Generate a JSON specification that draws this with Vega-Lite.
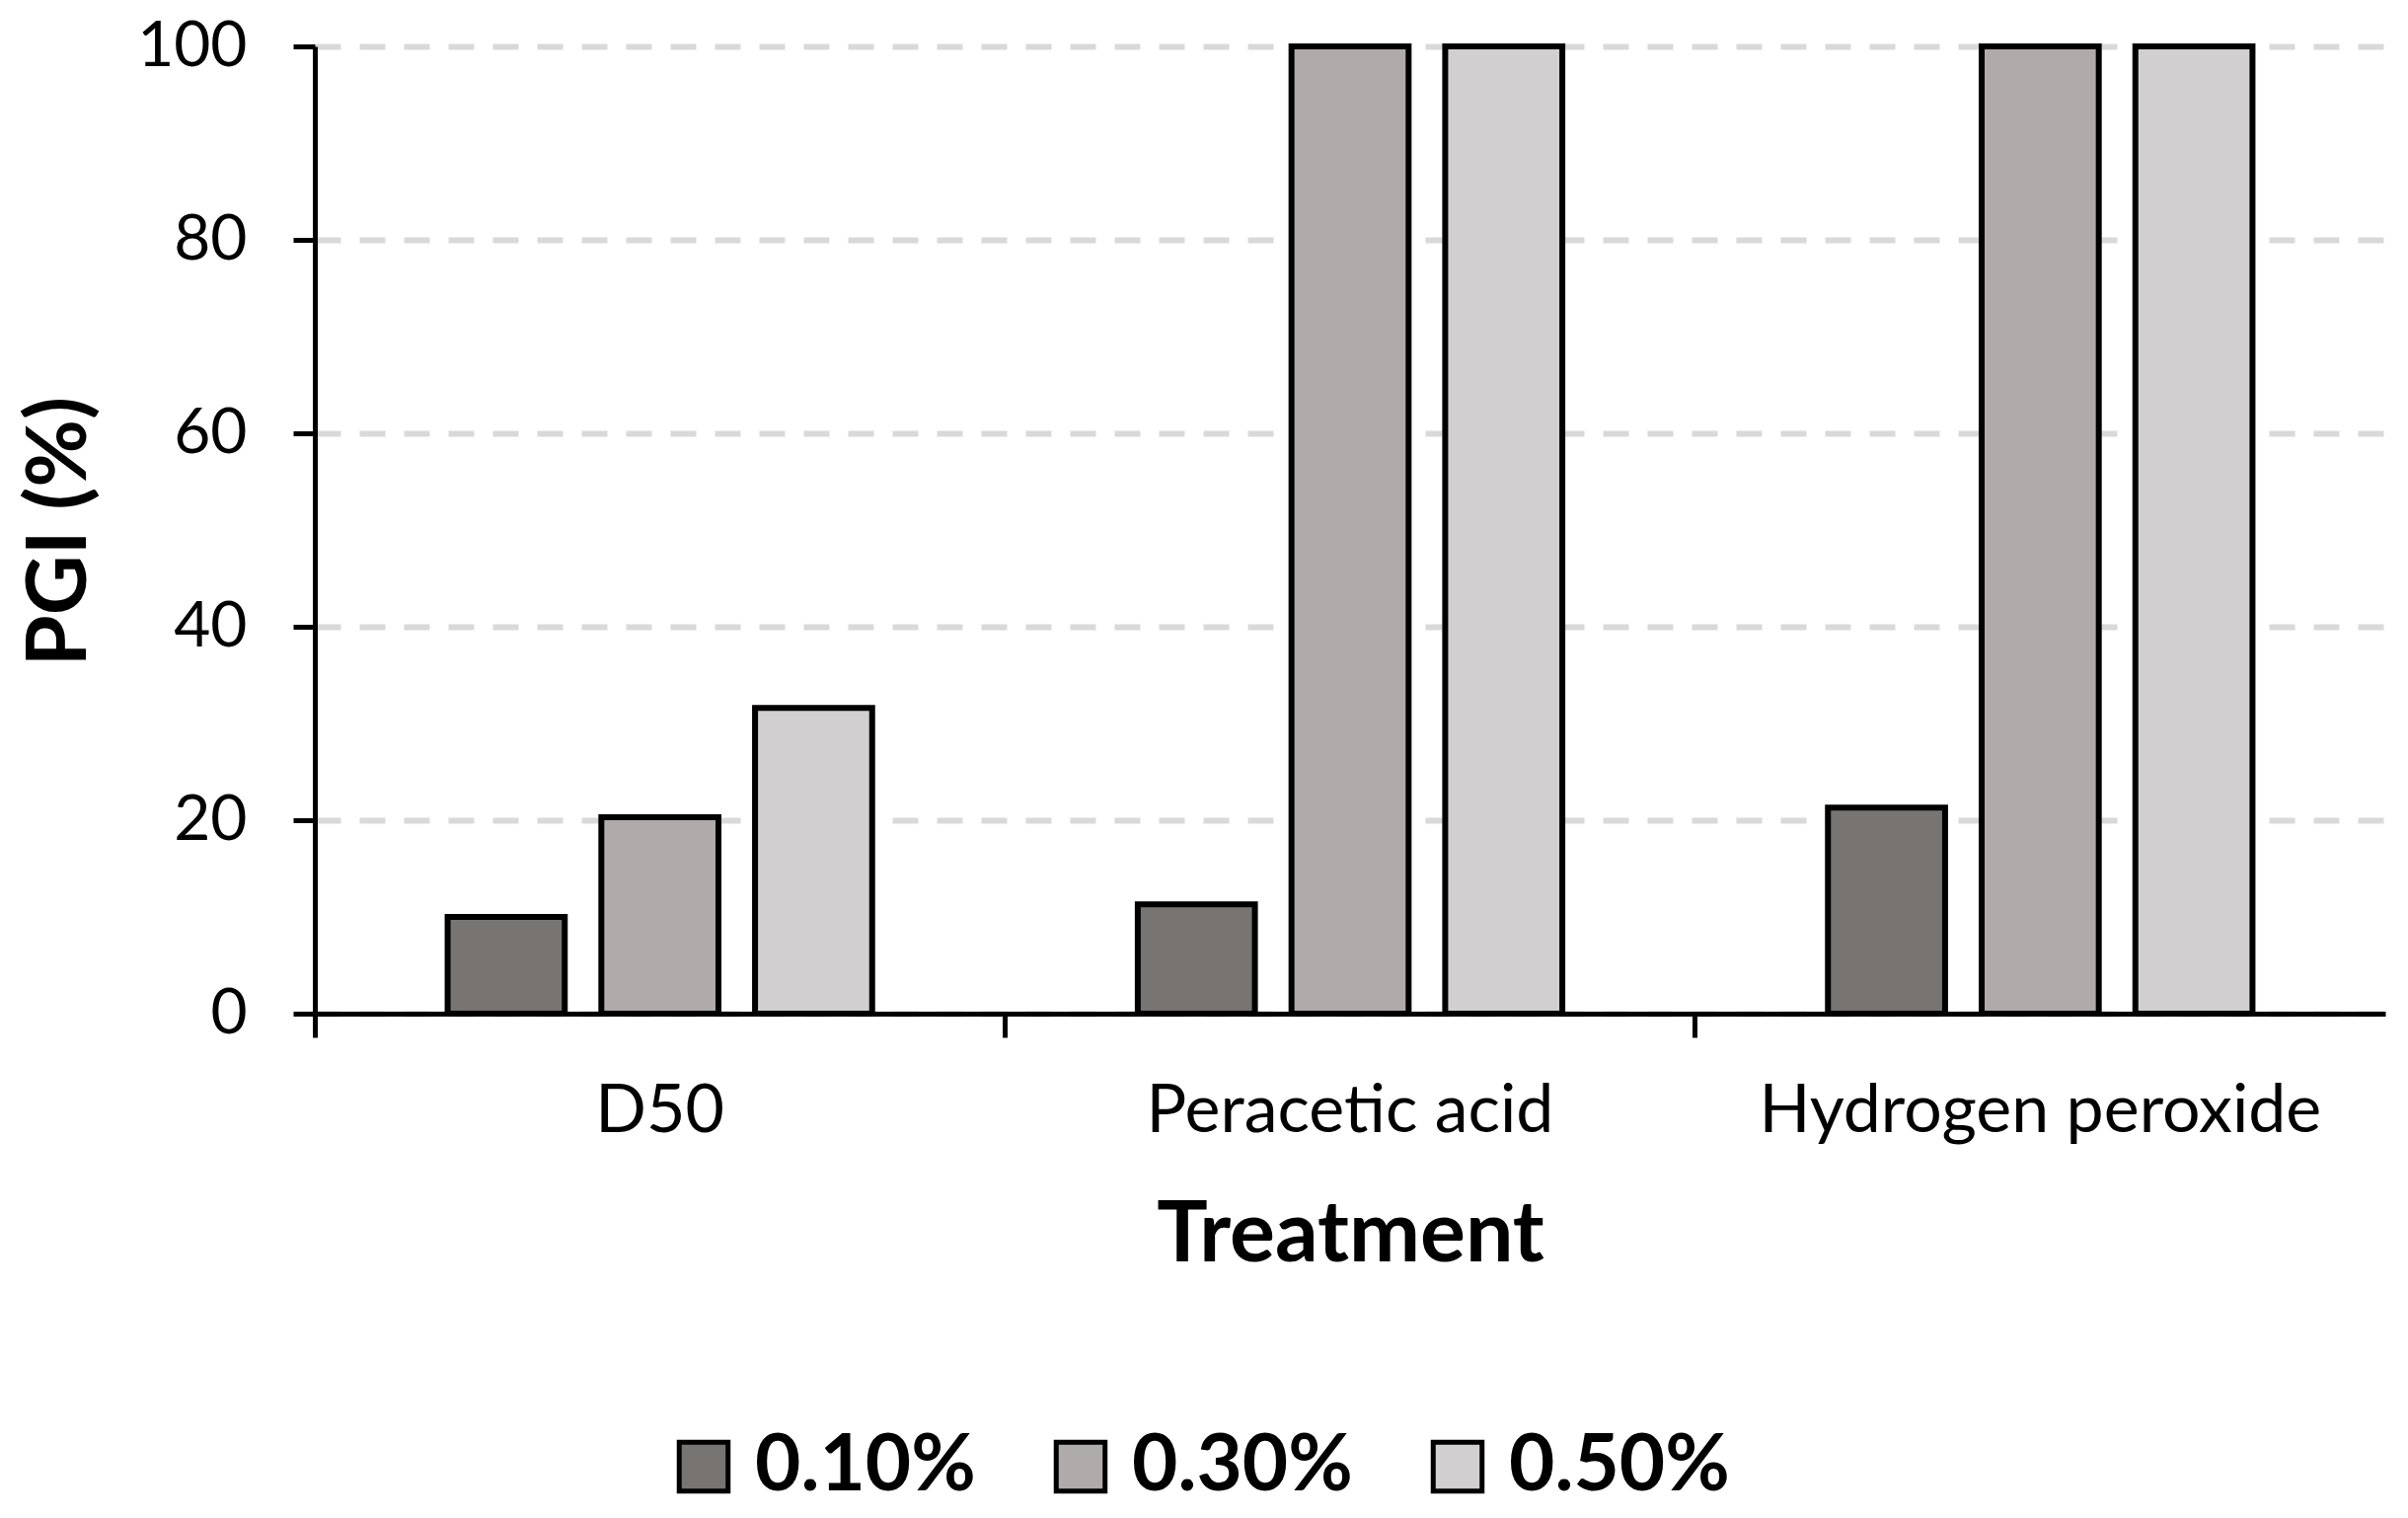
{
  "$schema": "https://vega.github.io/schema/vega-lite/v6.json",
  "autosize": {"type": "none"},
  "padding": {"left": 319, "top": 47, "right": 23, "bottom": 511},
  "width": 2098,
  "height": 980,
  "background": "white",
  "config": {"view": {"stroke": null}, "font": "Lato"},
  "data": {
    "values": [
      {"Treatment": "D50", "Concentration": "0.10%", "PGI": 10.0},
      {"Treatment": "D50", "Concentration": "0.30%", "PGI": 20.3},
      {"Treatment": "D50", "Concentration": "0.50%", "PGI": 31.6},
      {"Treatment": "Peracetic acid", "Concentration": "0.10%", "PGI": 11.3},
      {"Treatment": "Peracetic acid", "Concentration": "0.30%", "PGI": 100},
      {"Treatment": "Peracetic acid", "Concentration": "0.50%", "PGI": 100},
      {"Treatment": "Hydrogen peroxide", "Concentration": "0.10%", "PGI": 21.3},
      {"Treatment": "Hydrogen peroxide", "Concentration": "0.30%", "PGI": 100},
      {"Treatment": "Hydrogen peroxide", "Concentration": "0.50%", "PGI": 100}
    ]
  },
  "mark": {"type": "bar", "stroke": "black", "strokeWidth": 6},
  "encoding": {
    "x": {
      "field": "Treatment",
      "type": "nominal",
      "sort": ["D50", "Peracetic acid", "Hydrogen peroxide"],
      "scale": {"paddingInner": 0, "paddingOuter": 0},
      "axis": {
        "title": "Treatment",
        "titleFont": "Lato",
        "titleFontSize": 86,
        "titleFontWeight": "bold",
        "titleColor": "black",
        "titleY": 250,
        "titleBaseline": "alphabetic",
        "bandPosition": 0,
        "labelOffset": 0,
        "labelAngle": 0,
        "labelLimit": 0,
        "labelFont": "Lato",
        "labelFontSize": 68,
        "labelColor": "black",
        "labelPadding": 41,
        "labelBaseline": "top",
        "tickSize": 24,
        "tickWidth": 5,
        "tickColor": "black",
        "domainColor": "black",
        "domainWidth": 5,
        "grid": false
      }
    },
    "xOffset": {
      "field": "Concentration",
      "type": "nominal",
      "sort": ["0.10%", "0.30%", "0.50%"],
      "scale": {"paddingInner": 0.238, "paddingOuter": 0.864}
    },
    "y": {
      "field": "PGI",
      "type": "quantitative",
      "scale": {"domain": [0, 100], "nice": false},
      "axis": {
        "title": "PGI (%)",
        "titleFont": "Lato",
        "titleFontSize": 84,
        "titleFontWeight": "bold",
        "titleColor": "black",
        "titleX": -258,
        "titleY": 491,
        "titleAlign": "center",
        "titleBaseline": "middle",
        "values": [0, 20, 40, 60, 80, 100],
        "labelFont": "Lato",
        "labelFontSize": 64,
        "labelColor": "black",
        "labelPadding": 47,
        "tickSize": 22,
        "tickWidth": 5,
        "tickColor": "black",
        "domainColor": "black",
        "domainWidth": 5,
        "grid": true,
        "gridColor": "#D9D9D9",
        "gridWidth": 6,
        "gridDash": [26, 19]
      }
    },
    "fill": {
      "field": "Concentration",
      "type": "nominal",
      "sort": ["0.10%", "0.30%", "0.50%"],
      "scale": {"domain": ["0.10%", "0.30%", "0.50%"], "range": ["#787472", "#AFABAA", "#D1CFD0"]},
      "legend": {
        "title": null,
        "orient": "none",
        "legendX": 354,
        "legendY": 1399,
        "direction": "horizontal",
        "columns": 3,
        "symbolType": "square",
        "symbolSize": 2450,
        "symbolStrokeColor": "black",
        "symbolStrokeWidth": 5,
        "labelFont": "Lato",
        "labelFontSize": 80,
        "labelFontWeight": "bold",
        "labelColor": "black",
        "labelLimit": 0,
        "labelOffset": 12,
        "columnPadding": 66
      }
    }
  }
}
